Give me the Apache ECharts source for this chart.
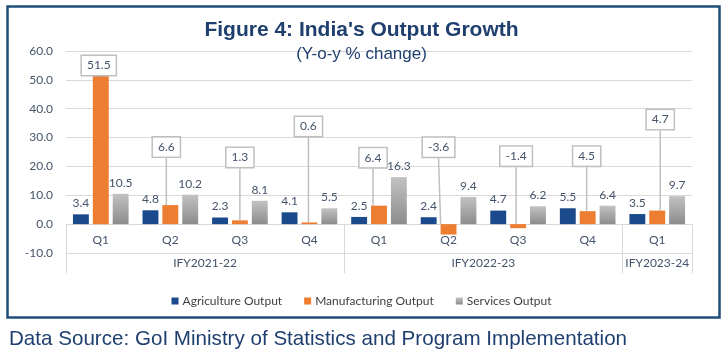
<!DOCTYPE html>
<html><head><meta charset="utf-8">
<script src="https://cdn.jsdelivr.net/npm/echarts@6/dist/echarts.min.js"></script>
<style>html,body{margin:0;padding:0;background:#fff}#c{width:723px;height:355px}</style>
</head><body><div id="c"></div>
<script>
// ---- data ----
const quarters = ['Q1','Q2','Q3','Q4','Q1','Q2','Q3','Q4','Q1'];
const fiscalYears = ['IFY2021-22','IFY2022-23','IFY2023-24'];
const quartersPerYear = [4,4,1];
const agriculture = [3.4,4.8,2.3,4.1,2.5,2.4,4.7,5.5,3.5];
const manufacturing = [51.5,6.6,1.3,0.6,6.4,-3.6,-1.4,4.5,4.7];
const services = [10.5,10.2,8.1,5.5,16.3,9.4,6.2,6.4,9.7];
const seriesNames = ['Agriculture Output','Manufacturing Output','Services Output'];
const yMin = -10, yMax = 60, yStep = 10;

// ---- callout layout (pixels relative to bar top) ----
const calloutLift = [10,58,63,96,48,77,68,55,91];
const calloutShift = [-2,-4,0,-1,-6,-10,-2,-1,3];

// derived axis positions for the grouped (multi-level) axis
const boundaries = [0];
quartersPerYear.forEach(n => boundaries.push(boundaries[boundaries.length-1] + n));
const yearCenters = quartersPerYear.map((n,i) => boundaries[i] + n/2);

const txt = '#44546A';
const gridCol = '#D9D9D9';
const labelFont = 'Lato';

const chart = echarts.init(document.getElementById('c'), null, {renderer:'canvas'});
chart.setOption({
  animation: false,
  textStyle: {fontFamily: labelFont},
  graphic: [{
    type: 'rect', left: 5, top: 4, z: -1,
    shape: {width: 712, height: 311},
    style: {fill: 'none', stroke: '#1F4E79', lineWidth: 2.5}
  }],
  title: [
    {text: "Figure 4: India's Output Growth", left: 'center', top: 15,
     textStyle: {fontFamily: 'Liberation Sans', fontWeight: 'bold', fontSize: 21, color: '#1F3F6F'}},
    {text: '(Y-o-y % change)', left: 'center', top: 41,
     textStyle: {fontFamily: 'Liberation Sans', fontWeight: 'normal', fontSize: 17, color: '#1F3F6F'}},
    {text: 'Data Source: GoI Ministry of Statistics and Program Implementation', left: 4, top: 324,
     textStyle: {fontFamily: 'Liberation Sans', fontWeight: 'normal', fontSize: 20.6, color: '#1F3F6F'}}
  ],
  legend: {
    top: 290, left: 'center', itemWidth: 7, itemHeight: 7, itemGap: 22,
    icon: 'rect',
    textStyle: {fontFamily: labelFont, fontSize: 12, color: '#404040', padding: [0,0,0,-1]},
    data: seriesNames
  },
  grid: {left: 66, right: 31, top: 51, bottom: 102, containLabel: false},
  xAxis: [
    {type: 'category', data: quarters, position: 'bottom',
     axisLine: {show: false, onZero: false},
     axisTick: {show: false},
     axisLabel: {margin: -19, fontSize: 12, color: txt, fontFamily: labelFont}},
    {type: 'value', min: 0, max: quarters.length, position: 'bottom',
     axisLine: {show: false, onZero: true, onZeroAxisIndex: 0},
     axisTick: {show: true, inside: false, length: 49, customValues: boundaries, lineStyle: {color: gridCol}},
     axisLabel: {show: false}, splitLine: {show: false}},
    {type: 'value', min: 0, max: quarters.length, position: 'bottom',
     axisLine: {show: false, onZero: false},
     axisTick: {show: false}, splitLine: {show: false},
     axisLabel: {show: true, margin: 4, fontSize: 12, color: txt, fontFamily: labelFont,
       customValues: yearCenters,
       formatter: v => { const i = yearCenters.indexOf(v); return i >= 0 ? fiscalYears[i] : ''; }}}
  ],
  yAxis: {
    type: 'value', min: yMin, max: yMax, interval: yStep,
    axisLine: {show: false}, axisTick: {show: false},
    splitLine: {lineStyle: {color: gridCol, width: 1}},
    axisLabel: {margin: 13, fontSize: 12, color: txt, fontFamily: labelFont, formatter: v => v.toFixed(1)}
  },
  series: [
    {name: seriesNames[0], type: 'bar', data: agriculture, barGap: '25%', barCategoryGap: '20%',
     itemStyle: {color: '#1B4A8C'},
     label: {show: true, position: 'top', distance: 5, fontSize: 12, color: txt, fontFamily: labelFont,
       formatter: p => p.value.toFixed(1)}},
    {name: seriesNames[1], type: 'bar', data: manufacturing, barGap: '25%', barCategoryGap: '20%',
     itemStyle: {color: '#ED7D31'},
     label: {show: true, position: 'top', fontSize: 12, color: txt, fontFamily: labelFont,
       backgroundColor: '#FFFFFF', borderColor: '#BFBFBF', borderWidth: 1.5, padding: [4,5,3,5],
       formatter: p => p.value.toFixed(1)},
     labelLine: {show: true, lineStyle: {color: '#BFBFBF', width: 1.5}},
     labelLayout: p => {
       const r = p.rect;
       return {x: r.x + r.width/2 + calloutShift[p.dataIndex], y: r.y - calloutLift[p.dataIndex],
               align: 'center', verticalAlign: 'middle'};
     }},
    {name: seriesNames[2], type: 'bar', data: services, barGap: '25%', barCategoryGap: '20%',
     itemStyle: {color: new echarts.graphic.LinearGradient(0,0,0,1,[{offset:0,color:'#C2C2C2'},{offset:1,color:'#8C8C8C'}])},
     label: {show: true, position: 'top', distance: 5, fontSize: 12, color: txt, fontFamily: labelFont,
       formatter: p => p.value.toFixed(1)}}
  ]
});
</script></body></html>
